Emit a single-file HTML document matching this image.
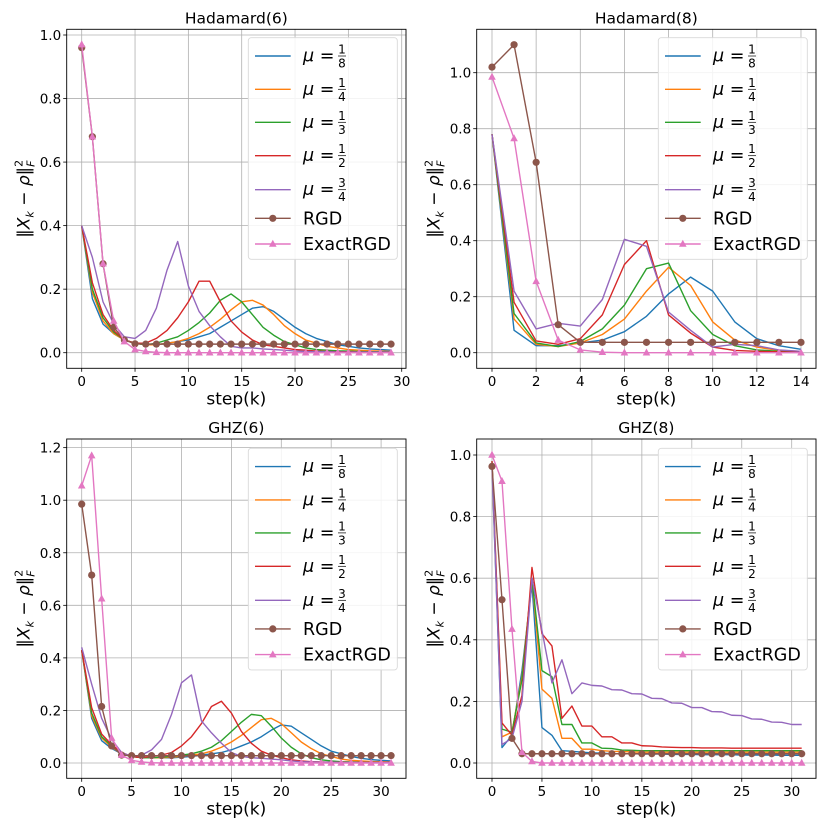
<!DOCTYPE html>
<html><head><meta charset="utf-8"><style>
html,body{margin:0;padding:0;background:#fff;}
svg{display:block;font-family:"DejaVu Sans","Liberation Sans",sans-serif;}
</style></head><body>
<svg id="fig" width="830" height="830" viewBox="0 0 830 830" xmlns="http://www.w3.org/2000/svg"></svg>
<script>
// ---- data ----
const h6_mu18=[0.40,0.17,0.09,0.06,0.04,0.03,0.025,0.025,0.03,0.035,0.04,0.05,0.06,0.08,0.10,0.12,0.14,0.145,0.13,0.105,0.08,0.06,0.045,0.035,0.025,0.02,0.015,0.012,0.01,0.008];
const h6_mu14=[0.40,0.19,0.10,0.06,0.04,0.03,0.025,0.025,0.03,0.035,0.045,0.06,0.08,0.105,0.135,0.16,0.165,0.15,0.12,0.085,0.06,0.04,0.03,0.02,0.015,0.01,0.008,0.006,0.005,0.004];
const h6_mu13=[0.40,0.20,0.11,0.065,0.04,0.03,0.025,0.03,0.04,0.05,0.07,0.095,0.125,0.165,0.185,0.16,0.12,0.08,0.055,0.035,0.025,0.015,0.01,0.008,0.006,0.005,0.004,0.003,0.003,0.002];
const h6_mu12=[0.40,0.22,0.12,0.07,0.04,0.03,0.03,0.045,0.07,0.11,0.16,0.225,0.225,0.16,0.10,0.065,0.04,0.025,0.02,0.015,0.01,0.008,0.005,0.004,0.003,0.003,0.002,0.002,0.002,0.002];
const h6_mu34=[0.40,0.30,0.16,0.09,0.05,0.045,0.07,0.14,0.26,0.35,0.21,0.13,0.085,0.05,0.02,0.015,0.015,0.012,0.01,0.008,0.005,0.004,0.003,0.003,0.002,0.002,0.002,0.002,0.002,0.002];
const h6_rgd=[0.96,0.68,0.28,0.08,0.04,0.028,0.027,0.027,0.027,0.027,0.027,0.027,0.027,0.027,0.027,0.027,0.027,0.027,0.027,0.027,0.027,0.027,0.027,0.027,0.027,0.027,0.027,0.027,0.027,0.027];
const h6_exact=[0.97,0.68,0.28,0.10,0.035,0.01,0.004,0.001,0,0,0,0,0,0,0,0,0,0,0,0,0,0,0,0,0,0,0,0,0,0];

const h8_mu18=[0.78,0.08,0.025,0.025,0.035,0.045,0.075,0.13,0.21,0.27,0.22,0.11,0.05,0.025,0.012];
const h8_mu14=[0.78,0.12,0.03,0.022,0.035,0.065,0.12,0.22,0.305,0.24,0.11,0.045,0.02,0.008,0.005];
const h8_mu13=[0.78,0.14,0.035,0.022,0.04,0.085,0.17,0.30,0.32,0.15,0.065,0.025,0.01,0.005,0.003];
const h8_mu12=[0.78,0.18,0.042,0.03,0.05,0.135,0.315,0.40,0.135,0.07,0.02,0.008,0.005,0.003,0.002];
const h8_mu34=[0.78,0.22,0.085,0.105,0.095,0.19,0.405,0.38,0.145,0.08,0.02,0.03,0.025,0.01,0.005];
const h8_rgd=[1.02,1.10,0.68,0.10,0.037,0.037,0.037,0.037,0.037,0.037,0.037,0.037,0.037,0.037,0.037];
const h8_exact=[0.985,0.765,0.255,0.045,0.01,0.002,0,0,0,0,0,0,0,0,0];

const g6_mu18=[0.43,0.17,0.085,0.055,0.035,0.025,0.02,0.02,0.02,0.02,0.022,0.025,0.03,0.035,0.04,0.05,0.065,0.08,0.10,0.125,0.145,0.14,0.115,0.09,0.065,0.045,0.035,0.025,0.018,0.013,0.01,0.008];
const g6_mu14=[0.43,0.18,0.095,0.06,0.035,0.025,0.02,0.02,0.02,0.022,0.025,0.03,0.035,0.045,0.06,0.08,0.105,0.135,0.165,0.17,0.15,0.115,0.08,0.055,0.035,0.025,0.015,0.01,0.008,0.006,0.005,0.004];
const g6_mu13=[0.43,0.19,0.10,0.065,0.035,0.025,0.02,0.02,0.022,0.025,0.03,0.035,0.045,0.06,0.085,0.12,0.155,0.185,0.18,0.14,0.095,0.06,0.035,0.02,0.012,0.008,0.005,0.004,0.003,0.003,0.002,0.002];
const g6_mu12=[0.43,0.21,0.11,0.07,0.04,0.025,0.02,0.025,0.03,0.04,0.065,0.10,0.15,0.215,0.235,0.19,0.12,0.075,0.045,0.03,0.02,0.012,0.008,0.005,0.004,0.003,0.003,0.002,0.002,0.002,0.002,0.002];
const g6_mu34=[0.44,0.30,0.17,0.09,0.04,0.025,0.03,0.05,0.09,0.185,0.305,0.335,0.16,0.115,0.075,0.04,0.025,0.02,0.018,0.015,0.012,0.008,0.005,0.004,0.003,0.003,0.002,0.002,0.002,0.002,0.002,0.002];
const g6_rgd=[0.985,0.715,0.215,0.065,0.03,0.028,0.028,0.028,0.028,0.028,0.028,0.028,0.028,0.028,0.028,0.028,0.028,0.028,0.028,0.028,0.028,0.028,0.028,0.028,0.028,0.028,0.028,0.028,0.028,0.028,0.028,0.028];
const g6_exact=[1.055,1.17,0.625,0.095,0.03,0.01,0.004,0.001,0,0,0,0,0,0,0,0,0,0,0,0,0,0,0,0,0,0,0,0,0,0,0,0];

const g8_mu18=[0.96,0.05,0.09,0.30,0.58,0.115,0.09,0.04,0.038,0.035,0.033,0.032,0.03,0.03,0.03,0.029,0.029,0.029,0.028,0.028,0.028,0.027,0.027,0.027,0.027,0.026,0.026,0.026,0.026,0.025,0.025,0.025];
const g8_mu14=[0.97,0.085,0.10,0.28,0.60,0.24,0.21,0.08,0.08,0.045,0.045,0.04,0.038,0.037,0.036,0.035,0.035,0.035,0.035,0.035,0.035,0.035,0.035,0.035,0.035,0.035,0.035,0.035,0.035,0.035,0.035,0.035];
const g8_mu13=[0.98,0.11,0.10,0.27,0.60,0.30,0.28,0.125,0.125,0.065,0.065,0.048,0.047,0.042,0.041,0.04,0.04,0.04,0.04,0.04,0.04,0.04,0.04,0.04,0.04,0.04,0.04,0.04,0.04,0.04,0.04,0.04];
const g8_mu12=[0.98,0.13,0.09,0.22,0.635,0.42,0.38,0.145,0.185,0.12,0.12,0.085,0.085,0.065,0.065,0.056,0.055,0.052,0.051,0.05,0.05,0.049,0.049,0.049,0.048,0.048,0.048,0.048,0.048,0.048,0.048,0.048];
const g8_mu34=[0.97,0.06,0.08,0.20,0.60,0.43,0.26,0.335,0.225,0.26,0.252,0.25,0.238,0.237,0.225,0.224,0.21,0.209,0.195,0.194,0.18,0.18,0.167,0.166,0.155,0.154,0.143,0.142,0.133,0.132,0.125,0.125];
const g8_rgd=[0.963,0.53,0.08,0.03,0.03,0.03,0.03,0.03,0.03,0.03,0.03,0.03,0.03,0.03,0.03,0.03,0.03,0.03,0.03,0.03,0.03,0.03,0.03,0.03,0.03,0.03,0.03,0.03,0.03,0.03,0.03,0.03];
const g8_exact=[1.0,0.915,0.435,0.035,0.005,0,0,0,0,0,0,0,0,0,0,0,0,0,0,0,0,0,0,0,0,0,0,0,0,0,0,0];

const xticksA=[0,5,10,15,20,25,30];
const xticksB=[0,2,4,6,8,10,12,14];
const yticksA=[0,0.2,0.4,0.6,0.8,1.0];
const yticksC=[0,0.2,0.4,0.6,0.8,1.0,1.2];
const legendNums=["1","1","1","1","3"];
const legendDens=["8","4","3","2","4"];

// ---- layout ----
const NS="http://www.w3.org/2000/svg";
const fig=document.getElementById('fig');
const colors=["#1f77b4","#ff7f0e","#2ca02c","#d62728","#9467bd","#8c564b","#e377c2"];
const panels=[
 {id:"hadamard6",title:"Hadamard(6)",box:[66.7,29.3,406,368.3],x0:81.7,xs:10.667,y0:352.7,ys:317.7,xt:xticksA,yt:yticksA,series:[h6_mu18,h6_mu14,h6_mu13,h6_mu12,h6_mu34,h6_rgd,h6_exact],leg:[248.3,37.7]},
 {id:"hadamard8",title:"Hadamard(8)",box:[476.7,29.3,816,368.3],x0:492,xs:22.07,y0:352.7,ys:280,xt:xticksB,yt:yticksA,series:[h8_mu18,h8_mu14,h8_mu13,h8_mu12,h8_mu34,h8_rgd,h8_exact],leg:[658.3,37.7]},
 {id:"ghz6",title:"GHZ(6)",box:[66.7,439,406,778.3],x0:81.7,xs:9.98,y0:763,ys:262.8,xt:xticksA,yt:yticksC,series:[g6_mu18,g6_mu14,g6_mu13,g6_mu12,g6_mu34,g6_rgd,g6_exact],leg:[248.3,448.3]},
 {id:"ghz8",title:"GHZ(8)",box:[476.7,439,816,778.3],x0:492,xs:9.99,y0:763,ys:308,xt:xticksA,yt:yticksA,series:[g8_mu18,g8_mu14,g8_mu13,g8_mu12,g8_mu34,g8_rgd,g8_exact],leg:[658.3,448.3]}
];
function el(tag,attrs,parent){const e=document.createElementNS(NS,tag);for(const k in attrs)e.setAttribute(k,attrs[k]);(parent||fig).appendChild(e);return e;}

panels.forEach(p=>{
 const g=el('g',{});
 
 
 const [L,T,R,B]=p.box;
 const X=v=>p.x0+v*p.xs, Y=v=>p.y0-v*p.ys;
 p.xt.forEach(t=>{
  const l=el('line',{x1:X(t),x2:X(t),y1:T,y2:B,stroke:"#b0b0b0","stroke-width":0.8},g);
  
  
  el('line',{x1:X(t),x2:X(t),y1:B,y2:B+3.5,stroke:"#000","stroke-width":0.8},g);
  const tx=el('text',{x:X(t),y:B+17.5,"text-anchor":"middle","font-size":13.5,fill:"#000"},g);
  tx.textContent=String(t);
  
  
 });
 p.yt.forEach(t=>{
  const l=el('line',{x1:L,x2:R,y1:Y(t),y2:Y(t),stroke:"#b0b0b0","stroke-width":0.8},g);
  
  
  el('line',{x1:L-3.5,x2:L,y1:Y(t),y2:Y(t),stroke:"#000","stroke-width":0.8},g);
  const tx=el('text',{x:L-5.5,y:Y(t)+5,"text-anchor":"end","font-size":13.5,fill:"#000"},g);
  tx.textContent=t.toFixed(1);
  
  
 });
 p.series.forEach((s,i)=>{
  const pts=s.map((v,k)=>X(k).toFixed(2)+","+Y(v).toFixed(2)).join(" ");
  const pl=el('polyline',{points:pts,fill:"none",stroke:colors[i],"stroke-width":1.4,"stroke-linejoin":"round"},g);
  
  
  if(i===5){s.forEach((v,k)=>{const c=el('circle',{cx:X(k),cy:Y(v),r:3.6,fill:colors[5]},g);
   
   });}
  if(i===6){s.forEach((v,k)=>{const x=X(k),y=Y(v);const t=el('polygon',{points:`${x},${y-4.2} ${x-3.8},${y+2.8} ${x+3.8},${y+2.8}`,fill:colors[6]},g);
   
   });}
 });
 el('rect',{x:L,y:T,width:R-L,height:B-T,fill:"none",stroke:"#000","stroke-width":0.9},g);
 const ti=el('text',{x:(L+R)/2,y:T-6,"text-anchor":"middle","font-size":15.5,fill:"#000"},g);
 ti.textContent=p.title;
 
 
 const xl=el('text',{x:(L+R)/2,y:B+36,"text-anchor":"middle","font-size":17,fill:"#000"},g);
 xl.textContent="step(k)";
 
 
 const yc=(T+B)/2, yx=L-37;
 const yl=el('text',{x:0,y:0,transform:`translate(${yx},${yc}) rotate(-90)`,"text-anchor":"middle","font-size":17,fill:"#000"},g);
 yl.innerHTML='‖<tspan font-style="italic">X</tspan><tspan font-size="11" dy="4" font-style="italic">k</tspan><tspan dy="-4"> − </tspan><tspan font-style="italic">ρ</tspan>‖<tspan font-size="11" dy="-7">2</tspan><tspan font-size="11" dx="-7" dy="12" font-style="italic">F</tspan>';
 
 
 const [lx,ly]=p.leg;
 const lg=el('g',{},g);
 
 
 el('rect',{x:lx,y:ly,width:149,height:221.6,rx:3,fill:"#fff","fill-opacity":0.85,stroke:"#d9d9d9","stroke-width":0.9},lg);
 const offs=[18.3,51.6,84.6,118,152,180.6,206.3];
 const labels=["","","","","","RGD","ExactRGD"];
 offs.forEach((o,i)=>{
  const yy=ly+o;
  const ent=el('g',{},lg);
  
  
  el('line',{x1:lx+6.7,x2:lx+42.4,y1:yy,y2:yy,stroke:colors[i],"stroke-width":1.4},ent);
  if(i===5)el('circle',{cx:lx+24.5,cy:yy,r:3.6,fill:colors[5]},ent);
  if(i===6){const x=lx+24.5;el('polygon',{points:`${x},${yy-4.2} ${x-3.8},${yy+2.8} ${x+3.8},${yy+2.8}`,fill:colors[6]},ent);}
  const tx0=lx+54.7;
  if(i<5){
   const t=el('text',{x:tx0,y:yy+5.5,"font-size":17.5,fill:"#000"},ent);
   t.innerHTML='<tspan font-style="italic">μ</tspan> =';
   const n=el('text',{x:tx0+39,y:yy-2.5,"font-size":12,"text-anchor":"middle",fill:"#000"},ent);
   n.textContent=legendNums[i];
   el('line',{x1:tx0+35,x2:tx0+43,y1:yy,y2:yy,stroke:"#000","stroke-width":0.7},ent);
   const d=el('text',{x:tx0+39,y:yy+11.5,"font-size":12,"text-anchor":"middle",fill:"#000"},ent);
   d.textContent=legendDens[i];
  } else {
   const t=el('text',{x:tx0,y:yy+6,"font-size":17.5,fill:"#000"},ent);
   t.textContent=labels[i];
  }
 });
});
</script>
</body></html>
